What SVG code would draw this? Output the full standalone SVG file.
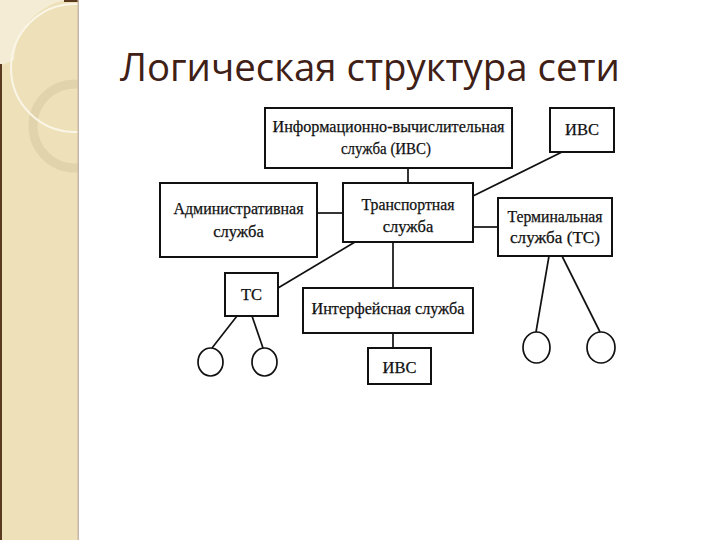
<svg xmlns="http://www.w3.org/2000/svg" width="720" height="540" viewBox="0 0 720 540">
<style>
.box{fill:#fff;stroke:#111;stroke-width:2}
.ln{stroke:#111;stroke-width:1.7;fill:none}
.cir{fill:#fff;stroke:#111;stroke-width:1.7}
.t{font-family:"Liberation Serif","Times New Roman",serif;font-size:16.5px;fill:#111;stroke:#111;stroke-width:0.25;text-anchor:middle}
.title{font-family:"Open Sans","Noto Sans","Liberation Sans",sans-serif;font-size:38px;fill:#3f2016}
</style>
<defs>
<clipPath id="stripe"><rect x="0" y="0" width="78" height="540"/></clipPath>
</defs>
<rect width="720" height="540" fill="#fff"/>
<g id="decor">
<rect x="0" y="0" width="78" height="540" fill="#EEE1BA"/>
<g clip-path="url(#stripe)">
<path d="M0,0 H66 A64,64 0 0 0 14,60 L0,66 Z" fill="#F4ECD4"/>
<circle cx="75" cy="126" r="42" fill="none" stroke="#E1D3AC" stroke-width="9"/>
<circle cx="75" cy="68" r="64" fill="none" stroke="#FAF5E6" stroke-width="2"/>
</g>
<rect x="0" y="64" width="2" height="476" fill="#5a3a1f"/>
<rect x="64" y="0" width="15" height="2" fill="#5a3a1f"/>
<rect x="77.5" y="0" width="1.5" height="540" fill="#C7B6A6"/>
</g>
<text class="title" x="120" y="81" textLength="500" lengthAdjust="spacingAndGlyphs">Логическая структура сети</text>
<g id="connectors">
<line class="ln" x1="408" y1="168" x2="408" y2="183"/>
<line class="ln" x1="317" y1="213" x2="343" y2="213"/>
<line class="ln" x1="562" y1="152" x2="473" y2="196"/>
<line class="ln" x1="473" y1="227" x2="498" y2="227"/>
<line class="ln" x1="355" y1="242" x2="278" y2="288"/>
<line class="ln" x1="393" y1="242" x2="393" y2="288"/>
<line class="ln" x1="393" y1="333" x2="393" y2="348"/>
<line class="ln" x1="237" y1="316" x2="212" y2="348"/>
<line class="ln" x1="252" y1="316" x2="263" y2="348"/>
<line class="ln" x1="549" y1="256" x2="536" y2="332"/>
<line class="ln" x1="562" y1="256" x2="600" y2="332"/>
</g>
<g id="ivs-service">
<rect class="box" x="265" y="108" width="247" height="60"/>
<text class="t" x="388.5" y="132" textLength="232" lengthAdjust="spacingAndGlyphs">Информационно-вычислительная</text>
<text class="t" x="386" y="154" textLength="90" lengthAdjust="spacingAndGlyphs">служба (ИВС)</text>
</g>
<g id="ivs-top">
<rect class="box" x="550" y="108" width="64" height="44"/>
<text class="t" x="582" y="135">ИВС</text>
</g>
<g id="admin">
<rect class="box" x="160" y="183" width="157" height="74"/>
<text class="t" x="238.5" y="214" textLength="130" lengthAdjust="spacingAndGlyphs">Административная</text>
<text class="t" x="238.5" y="237">служба</text>
</g>
<g id="transport">
<rect class="box" x="343" y="183" width="130" height="59"/>
<text class="t" x="408" y="210" textLength="93" lengthAdjust="spacingAndGlyphs">Транспортная</text>
<text class="t" x="408" y="232">служба</text>
</g>
<g id="terminal">
<rect class="box" x="498" y="198" width="114" height="58"/>
<text class="t" x="555" y="222" textLength="95" lengthAdjust="spacingAndGlyphs">Терминальная</text>
<text class="t" x="555" y="243" textLength="90" lengthAdjust="spacingAndGlyphs">служба (ТС)</text>
</g>
<g id="ts">
<rect class="box" x="225" y="273" width="53" height="43"/>
<text class="t" x="251.5" y="300">ТС</text>
</g>
<g id="interface">
<rect class="box" x="303" y="288" width="170" height="45"/>
<text class="t" x="388" y="314" textLength="153" lengthAdjust="spacingAndGlyphs">Интерфейсная служба</text>
</g>
<g id="ivs-bottom">
<rect class="box" x="368" y="348" width="63" height="36"/>
<text class="t" x="399.5" y="373">ИВС</text>
</g>
<g id="circle-ts-1"><ellipse class="cir" cx="210.5" cy="362" rx="12.5" ry="14"/></g>
<g id="circle-ts-2"><ellipse class="cir" cx="264.5" cy="362" rx="12.5" ry="14"/></g>
<g id="circle-term-1"><ellipse class="cir" cx="536.5" cy="347.5" rx="13.5" ry="15.5"/></g>
<g id="circle-term-2"><ellipse class="cir" cx="601" cy="347.5" rx="14" ry="15.5"/></g>
</svg>
